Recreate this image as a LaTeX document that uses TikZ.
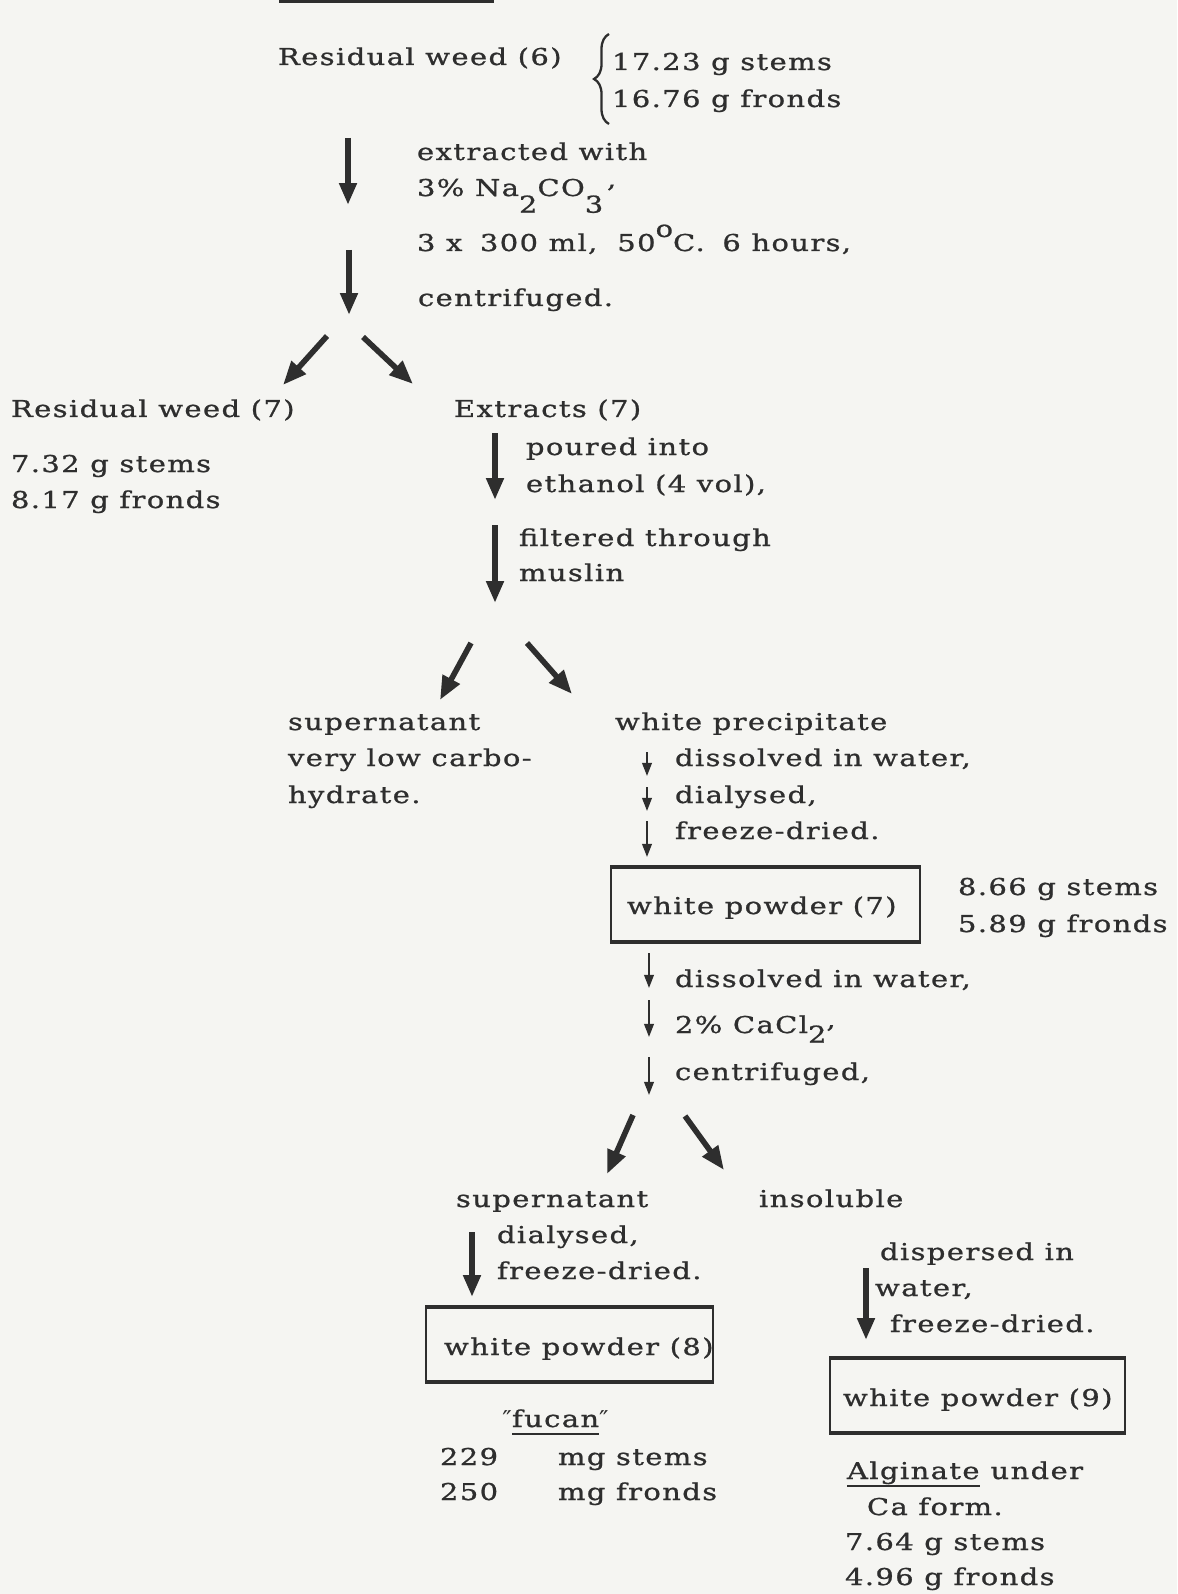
\documentclass[tikz,border=0pt]{standalone}
\usepackage{fontspec}
\setmainfont{DejaVu Serif}[FakeStretch=1.25,LetterSpace=6,FakeBold=0.9]
\newfontfamily\qtfont{DejaVu Sans}[FakeStretch=1.1]
\usetikzlibrary{arrows.meta,decorations.pathreplacing}
\definecolor{paper}{HTML}{F5F5F2}
\definecolor{ink}{HTML}{2E2E2E}
% typewriter-style lowered / raised characters
\newcommand\subdn[2]{\raisebox{-#1}{#2}}
\newcommand\supup[2]{\raisebox{#1}{#2}}
\newcommand\tick{{\qtfont ″}}
\begin{document}
\begin{tikzpicture}[x=0.02cm,y=-0.02cm,
  lbl/.style={anchor=base west,inner sep=0pt,outer sep=0pt,text=ink,
              font=\fontsize{13.2pt}{16pt}\selectfont},
  bigarr/.style={draw=ink,line width=3.4pt,-{Triangle[width=9.5pt,length=12.5pt]}},
  diagarr/.style={draw=ink,line width=3.2pt,-{Triangle[width=10.5pt,length=13.5pt]}},
  smallarr/.style={draw=ink,line width=1.1pt,-{Triangle[width=5.5pt,length=7.5pt]}},
  sidebox/.style={draw=ink,line width=1.1pt},
  edgebox/.style={draw=ink,line width=1.8pt},
  uline/.style={draw=ink,line width=1.2pt}]
\fill[paper] (0,0) rectangle (1177,1594);
\useasboundingbox (0,0) rectangle (1177,1594);

% heading rule at the top edge
\draw[ink,line width=1.8pt] (279,1.5) -- (494,1.5);

% ---- starting material
\node[lbl] (resid6) at (278,65) {Residual weed (6)};
\draw[ink,line width=1.3pt,decorate,decoration={brace,amplitude=0.3cm}]
  (609,124) -- (609,34);
\node[lbl] (stems6) at (612,70) {17.23 g stems};
\node[lbl] (fronds6) at (612,107) {16.76 g fronds};

\coordinate (a1s) at (348,138); \coordinate (a1e) at (348,205);
\draw[bigarr] (a1s) -- (a1e);
\node[lbl] (ext1) at (417,160) {extracted with};
\node[lbl] (ext2) at (417,196) {3\% Na\subdn{9.5pt}{2}CO\subdn{9.5pt}{3}\,\supup{5pt}{,}};
\node[lbl] (ext3) at (417,251) {3 x\hspace{0.3em} 300 ml,\hspace{0.4em} 50\supup{8pt}{o}C.\hspace{0.3em} 6 hours,};
\coordinate (a2s) at (349,250); \coordinate (a2e) at (349,315);
\draw[bigarr] (a2s) -- (a2e);
\node[lbl] (cent1) at (418,306) {centrifuged.};

% ---- first split
\coordinate (d1s) at (327,336); \coordinate (d1e) at (283,385);
\coordinate (d2s) at (363,337); \coordinate (d2e) at (413,384);
\draw[diagarr] (d1s) -- (d1e);
\draw[diagarr] (d2s) -- (d2e);

\node[lbl] (resid7) at (11,417) {Residual weed (7)};
\node[lbl] (stems7) at (11,472) {7.32 g stems};
\node[lbl] (fronds7) at (11,508) {8.17 g fronds};

\node[lbl] (extr7) at (454,417) {Extracts (7)};
\coordinate (a3s) at (495,433); \coordinate (a3e) at (495,500);
\draw[bigarr] (a3s) -- (a3e);
\node[lbl] (pour1) at (526,455) {poured into};
\node[lbl] (pour2) at (526,492) {ethanol (4 vol),};
\coordinate (a4s) at (495,525); \coordinate (a4e) at (495,603);
\draw[bigarr] (a4s) -- (a4e);
\node[lbl] (filt1) at (519,546) {filtered through};
\node[lbl] (filt2) at (519,581) {muslin};

% ---- second split
\coordinate (d3s) at (471,643); \coordinate (d3e) at (440,700);
\coordinate (d4s) at (527,643); \coordinate (d4e) at (572,694);
\draw[diagarr] (d3s) -- (d3e);
\draw[diagarr] (d4s) -- (d4e);

\node[lbl] (sup1a) at (288,730) {supernatant};
\node[lbl] (sup1b) at (288,766) {very low carbo-};
\node[lbl] (sup1c) at (288,803) {hydrate.};

\node[lbl] (wprec) at (615,730) {white precipitate};
\coordinate (sas) at (647,752); \coordinate (sae) at (647,776);
\draw[smallarr] (sas) -- (sae);
\node[lbl] (diss1) at (675,766) {dissolved in water,};
\coordinate (sbs) at (647,787); \coordinate (sbe) at (647,811);
\draw[smallarr] (sbs) -- (sbe);
\node[lbl] (dial1) at (675,803) {dialysed,};
\coordinate (scs) at (647,821); \coordinate (sce) at (647,857);
\draw[smallarr] (scs) -- (sce);
\node[lbl] (frz1) at (675,839) {freeze-dried.};

% white powder (7)
\draw[sidebox] (611,867) -- (611,942) (920,867) -- (920,942);
\draw[edgebox] (610,867) -- (921,867) (610,942) -- (921,942);
\node[lbl] (wp7) at (627,914) {white powder (7)};
\node[lbl] (stems7b) at (958,895) {8.66 g stems};
\node[lbl] (fronds7b) at (958,932) {5.89 g fronds};

\coordinate (sds) at (649,953); \coordinate (sde) at (649,988);
\draw[smallarr] (sds) -- (sde);
\node[lbl] (diss2) at (675,987) {dissolved in water,};
\coordinate (ses) at (649,1000); \coordinate (see) at (649,1037);
\draw[smallarr] (ses) -- (see);
\node[lbl] (cacl) at (675,1033) {2\% CaCl\subdn{5.5pt}{2}\supup{3pt}{,}};
\coordinate (sfs) at (649,1057); \coordinate (sfe) at (649,1095);
\draw[smallarr] (sfs) -- (sfe);
\node[lbl] (cent2) at (675,1080) {centrifuged,};

% ---- third split
\coordinate (d5s) at (633,1115); \coordinate (d5e) at (607,1174);
\coordinate (d6s) at (685,1116); \coordinate (d6e) at (724,1170);
\draw[diagarr] (d5s) -- (d5e);
\draw[diagarr] (d6s) -- (d6e);

\node[lbl] (sup2) at (456,1207) {supernatant};
\node[lbl] (insol) at (759,1207) {insoluble};

\coordinate (a5s) at (472,1232); \coordinate (a5e) at (472,1297);
\draw[bigarr] (a5s) -- (a5e);
\node[lbl] (dial2) at (497,1243) {dialysed,};
\node[lbl] (frz2) at (497,1279) {freeze-dried.};

% white powder (8)
\draw[sidebox] (426,1307) -- (426,1382) (713,1307) -- (713,1382);
\draw[edgebox] (425,1307) -- (714,1307) (425,1382) -- (714,1382);
\node[lbl] (wp8) at (444,1355) {white powder (8)};

\node[lbl] (fucan) at (512,1427) {fucan};
\node[lbl,anchor=base east] (fq1) at (fucan.base west) {\tick};
\node[lbl] (fq2) at (fucan.base east) {\tick};
\draw[uline] ([yshift=-0.14cm]fucan.base west) -- ([yshift=-0.14cm]fucan.base east);
\node[lbl] (n229) at (440,1465) {229};
\node[lbl] (mgst) at (558,1465) {mg stems};
\node[lbl] (n250) at (440,1500) {250};
\node[lbl] (mgfr) at (558,1500) {mg fronds};

\node[lbl] (disp1) at (880,1260) {dispersed in};
\coordinate (a6s) at (866,1268); \coordinate (a6e) at (866,1340);
\draw[bigarr] (a6s) -- (a6e);
\node[lbl] (disp2) at (875,1296) {water,};
\node[lbl] (frz3) at (890,1332) {freeze-dried.};

% white powder (9)
\draw[sidebox] (830,1358) -- (830,1433) (1125,1358) -- (1125,1433);
\draw[edgebox] (829,1358) -- (1126,1358) (829,1433) -- (1126,1433);
\node[lbl] (wp9) at (843,1406) {white powder (9)};

\node[lbl] (algi) at (847,1479) {Alginate};
\node[lbl] (under) at ([xshift=0.22cm]algi.base east) {under};
\draw[uline] ([yshift=-0.14cm]algi.base west) -- ([yshift=-0.14cm]algi.base east);
\node[lbl] (caform) at (867,1515) {Ca form.};
\node[lbl] (stems9) at (845,1550) {7.64 g stems};
\node[lbl] (fronds9) at (845,1585) {4.96 g fronds};
\end{tikzpicture}
\end{document}
